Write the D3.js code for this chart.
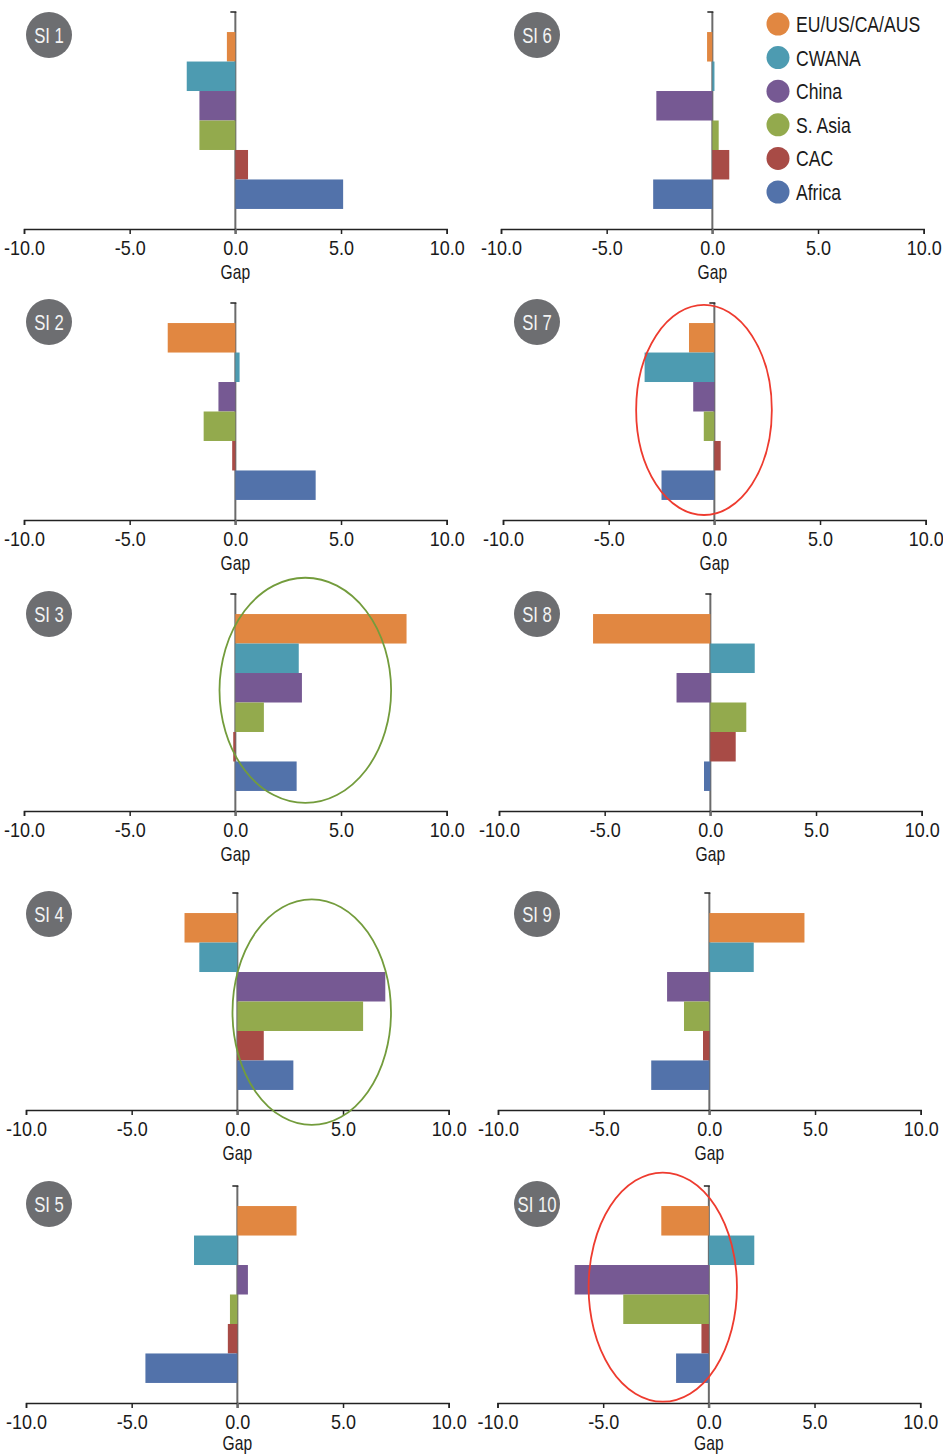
<!DOCTYPE html>
<html>
<head>
<meta charset="utf-8">
<script src="https://cdn.jsdelivr.net/npm/d3@7"></script>
<style>
  html, body { margin: 0; padding: 0; background: #fff; }
  svg { display: block; }
  text { font-family: "Liberation Sans", Arial, sans-serif; }
</style>
</head>
<body>
<svg id="chart" width="943" height="1456"></svg>
<script>
// Regions and their colours
const regions = ["EU/US/CA/AUS", "CWANA", "China", "S. Asia", "CAC", "Africa"];
const regionColors = ["#e18741", "#4d9bb1", "#765993", "#93aa4d", "#a84b46", "#5272aa"];

// Gap values per indicator, in region order
const si1  = [-0.4, -2.3, -1.7, -1.7, 0.6, 5.1];
const si2  = [-3.2, 0.2, -0.8, -1.5, -0.15, 3.8];
const si3  = [8.1, 3.0, 3.15, 1.35, -0.1, 2.9];
const si4  = [-2.5, -1.8, 7.0, 5.95, 1.25, 2.65];
const si5  = [2.8, -2.05, 0.5, -0.35, -0.45, -4.35];
const si6  = [-0.25, 0.1, -2.65, 0.3, 0.8, -2.8];
const si7  = [-1.2, -3.3, -1.0, -0.5, 0.3, -2.5];
const si8  = [-5.55, 2.1, -1.6, 1.7, 1.2, -0.3];
const si9  = [4.5, 2.1, -2.0, -1.2, -0.3, -2.75];
const si10 = [-2.25, 2.15, -6.35, -4.05, -0.35, -1.55];

const panelNames = ["SI 1", "SI 2", "SI 3", "SI 4", "SI 5", "SI 6", "SI 7", "SI 8", "SI 9", "SI 10"];
const panelValues = [si1, si2, si3, si4, si5, si6, si7, si8, si9, si10];

const xTicks = [-10, -5, 0, 5, 10];
const xDomain = [-10, 10];

// Highlight ellipses: centre and radius on the x axis in gap units,
// vertical centre/radius as a share of the plot height
const highlights = [
  { panel: "SI 3",  color: "#739c3c", cx: 3.31,  rx: 4.06, cy: 0.444, ry: 0.519 },
  { panel: "SI 4",  color: "#739c3c", cx: 3.52,  rx: 3.75, cy: 0.549, ry: 0.520 },
  { panel: "SI 7",  color: "#ee3b2f", cx: -0.49, rx: 3.21, cy: 0.493, ry: 0.484 },
  { panel: "SI 10", color: "#ee3b2f", cx: -2.18, rx: 3.51, cy: 0.466, ry: 0.528 }
];

// Layout
const rowTops = [12, 303, 594, 893, 1186];
const badgeY = [35, 322, 614, 914, 1204];
const titleOffset = [43, 43, 43, 43, 40];
const colBadgeX = [49, 537];
const axisStart = [[24, 24, 24, 26, 26], [501, 503, 499, 498, 497.5]];
const plotW = 422.7;
const plotH = 217;

// narrow-face emulation: horizontal squeeze of a regular sans
const SQ_DIGITS = 0.9;
const SQ_TEXT = 0.78;

const svg = d3.select("#chart");

function narrowText(parent, x, y, str, size, sx, anchor, fill) {
  return parent.append("text")
    .attr("transform", `translate(${x},${y}) scale(${sx},1)`)
    .attr("text-anchor", anchor)
    .attr("dy", "0.36em")
    .attr("font-size", size)
    .attr("fill", fill)
    .text(str);
}

const fmt = d => d.toFixed(1);

panelNames.forEach((name, i) => {
  const col = Math.floor(i / 5);
  const row = i % 5;
  const x0 = axisStart[col][row];
  const top = rowTops[row];
  const values = panelValues[i];

  const x = d3.scaleLinear().domain(xDomain).range([x0, x0 + plotW]);
  const y = d3.scaleBand().domain(regions).range([top, top + plotH])
    .paddingInner(0).paddingOuter(0.68);

  const g = svg.append("g").attr("class", "panel");

  // zero line (gray), runs from the top down through the x axis tick
  g.append("line")
    .attr("x1", x(0)).attr("x2", x(0))
    .attr("y1", top).attr("y2", top + plotH + 5)
    .attr("stroke", "#6b6b6b").attr("stroke-width", 2);
  // small end tick at the top of the vertical axis
  g.append("line")
    .attr("x1", x(0) - 5).attr("x2", x(0) + 1)
    .attr("y1", top).attr("y2", top)
    .attr("stroke", "#222").attr("stroke-width", 1.5);

  // bars
  g.selectAll("rect.bar")
    .data(regions.map((r, k) => ({ region: r, value: values[k], color: regionColors[k] })))
    .join("rect")
    .attr("class", "bar")
    .attr("x", d => Math.min(x(0), x(d.value)))
    .attr("width", d => Math.abs(x(d.value) - x(0)))
    .attr("y", d => y(d.region))
    .attr("height", y.bandwidth())
    .attr("fill", d => d.color);

  // x axis
  const axis = g.append("g")
    .attr("transform", `translate(0,${top + plotH})`)
    .call(d3.axisBottom(x).tickValues(xTicks).tickFormat(fmt)
      .tickSize(5).tickSizeOuter(5).tickPadding(7));
  axis.attr("font-family", null).attr("font-size", null);
  axis.select(".domain").attr("stroke", "#222").attr("stroke-width", 1.5);
  axis.selectAll(".tick line").attr("stroke", "#222").attr("stroke-width", 1.5);
  axis.selectAll(".tick").filter(d => d === 0).select("line")
    .attr("stroke", "#6b6b6b").attr("stroke-width", 2);
  axis.selectAll(".tick text")
    .attr("font-size", 20)
    .attr("fill", "#1a1a1a")
    .attr("transform", `scale(${SQ_DIGITS},1)`);

  // axis title
  narrowText(g, x(0), top + plotH + titleOffset[row], "Gap", 20, SQ_TEXT, "middle", "#1a1a1a");

  // indicator badge
  g.append("circle")
    .attr("cx", colBadgeX[col]).attr("cy", badgeY[row]).attr("r", 23)
    .attr("fill", "#6d6e71");
  narrowText(g, colBadgeX[col], badgeY[row], name, 22, 0.76, "middle", "#f4f4f4");

  // highlight ellipse
  highlights.filter(h => h.panel === name).forEach(h => {
    g.append("ellipse")
      .attr("cx", x(h.cx))
      .attr("cy", top + h.cy * plotH)
      .attr("rx", x(h.rx) - x(0))
      .attr("ry", h.ry * plotH)
      .attr("fill", "none")
      .attr("stroke", h.color)
      .attr("stroke-width", 1.8);
  });
});

// legend
const legend = svg.append("g").attr("class", "legend");
const legendY = d3.scalePoint().domain(regions).range([24, 192]);
regions.forEach((r, k) => {
  legend.append("circle")
    .attr("cx", 778).attr("cy", legendY(r)).attr("r", 11.5)
    .attr("fill", regionColors[k]);
  narrowText(legend, 796, legendY(r), r, 22, 0.8, "start", "#1a1a1a");
});
</script>
</body>
</html>
